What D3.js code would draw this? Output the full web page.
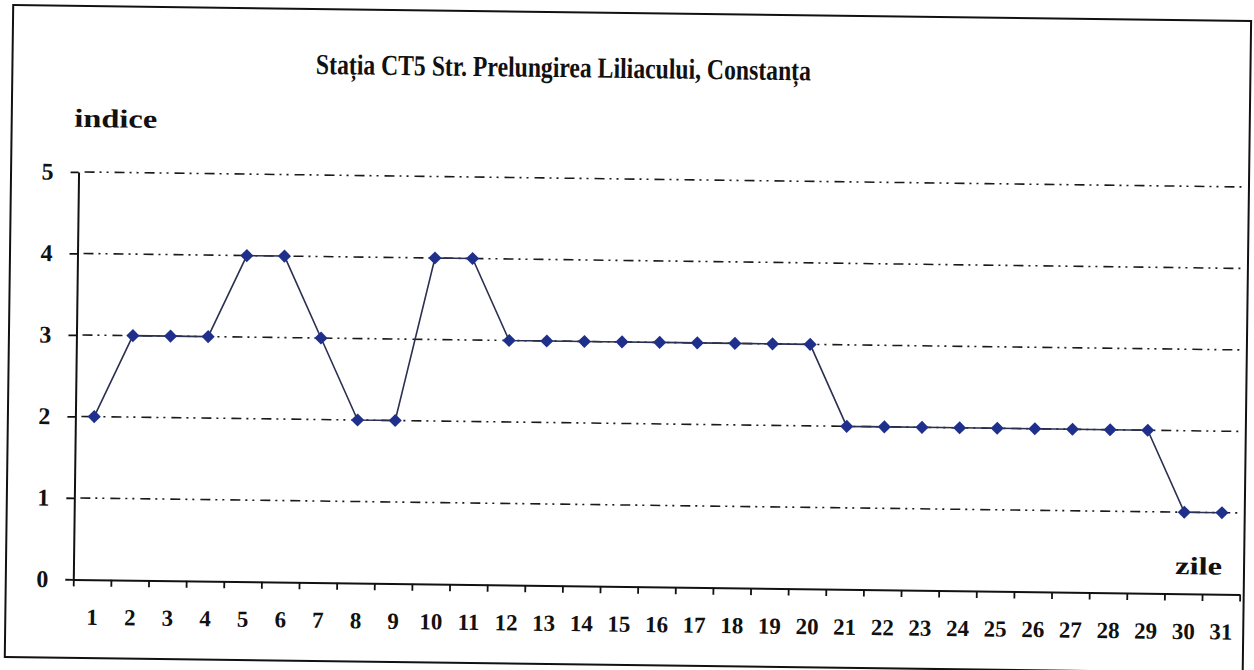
<!DOCTYPE html>
<html>
<head>
<meta charset="utf-8">
<script src="https://cdn.jsdelivr.net/npm/d3@7"></script>
<style>
  body { margin: 0; background: #fff; }
  svg { display: block; }
  text { font-family: 'Liberation Serif', 'Times New Roman', serif; font-weight: bold; fill: #111; }
</style>
</head>
<body>
<svg width="1254" height="670"></svg>
<script>
// daily index, station CT5
const days = d3.range(1, 32)
const indice = [2, 3, 3, 3, 4, 4, 3, 2, 2, 4, 4, 3, 3, 3, 3, 3, 3, 3, 3, 3, 2, 2, 2, 2, 2, 2, 2, 2, 2, 1, 1]
const yTicks = [0, 1, 2, 3, 4, 5]
const title = 'Stația CT5 Str. Prelungirea Liliacului, Constanța'

const width = 1254
const height = 670
const plotLeft = 76.5
const plotRight = 1243
const plotTop = 179
const plotBottom = 586.5

const svg = d3.select('svg')
// the scanned page is slightly tilted
const root = svg.append('g').attr('transform', `rotate(0.74, ${width / 2}, ${height / 2})`)

root.append('rect')
    .attr('x', 9).attr('y', 13)
    .attr('width', 1238).attr('height', 652)
    .attr('fill', 'none').attr('stroke', '#111').attr('stroke-width', 2)

const xScale = d3.scaleLinear().domain([0.5, 31.5]).range([plotLeft, plotRight])
const yScale = d3.scaleLinear().domain([0, 5]).range([plotBottom, plotTop])

// gridlines
root.append('g')
    .selectAll('line.grid')
    .data(yTicks.filter((d) => d > 0))
    .join('line')
    .attr('class', 'grid')
    .attr('x1', plotLeft + 6).attr('x2', plotRight)
    .attr('y1', (d) => yScale(d)).attr('y2', (d) => yScale(d))
    .attr('stroke', '#1a1a1a')
    .attr('stroke-width', 1.6)
    .attr('stroke-dasharray', '10,5,2,5,2,6')

// y axis
const yAxis = root.append('g')
    .attr('transform', `translate(${plotLeft}, 0)`)
    .call(d3.axisLeft(yScale).tickValues(yTicks).tickSize(8).tickSizeOuter(0).tickPadding(17).tickFormat(d3.format('d')))
yAxis.select('.domain').attr('stroke', '#111').attr('stroke-width', 2)
yAxis.selectAll('.tick line').attr('stroke', '#111').attr('stroke-width', 1.8)
yAxis.selectAll('.tick text')
    .style('font-family', "'Liberation Serif', serif")
    .style('font-weight', 'bold')
    .style('font-size', '24px')
    .attr('fill', '#111')

// x axis: ticks between days
const xAxis = root.append('g')
    .attr('transform', `translate(0, ${plotBottom})`)
    .call(d3.axisBottom(xScale).tickValues(d3.range(0.5, 32, 1)).tickSize(7).tickSizeOuter(0).tickFormat(''))
xAxis.select('.domain').attr('stroke', '#111').attr('stroke-width', 2)
xAxis.selectAll('.tick line').attr('stroke', '#111').attr('stroke-width', 1.8)

// day labels
const xLabels = root.append('g')
    .attr('transform', `translate(0, ${plotBottom})`)
    .call(d3.axisBottom(xScale).tickValues(days).tickSize(0).tickPadding(29).tickFormat(d3.format('d')))
xLabels.select('.domain').remove()
xLabels.selectAll('.tick text')
    .style('font-family', "'Liberation Serif', serif")
    .style('font-weight', 'bold')
    .style('font-size', '23px')
    .attr('fill', '#111')

// line + markers
const line = d3.line()
    .x((d, i) => xScale(days[i]))
    .y((d) => yScale(d))

root.append('path')
    .datum(indice)
    .attr('d', line)
    .attr('fill', 'none')
    .attr('stroke', '#2b3050')
    .attr('stroke-width', 1.6)

root.append('g')
    .selectAll('path.marker')
    .data(indice)
    .join('path')
    .attr('class', 'marker')
    .attr('d', d3.symbol().type(d3.symbolDiamond2).size(110))
    .attr('transform', (d, i) => `translate(${xScale(days[i])}, ${yScale(d)})`)
    .attr('fill', '#1f2f8c')

// texts
root.append('text')
    .attr('x', 560).attr('y', 78)
    .attr('text-anchor', 'middle')
    .attr('font-size', 29)
    .attr('textLength', 495)
    .attr('lengthAdjust', 'spacingAndGlyphs')
    .text(title)

root.append('text')
    .attr('x', 71.5).attr('y', 134)
    .attr('font-size', 26)
    .attr('textLength', 83)
    .attr('lengthAdjust', 'spacingAndGlyphs')
    .text('indice')

root.append('text')
    .attr('x', 1178).attr('y', 567)
    .attr('font-size', 25)
    .attr('textLength', 47)
    .attr('lengthAdjust', 'spacingAndGlyphs')
    .text('zile')
</script>
</body>
</html>
